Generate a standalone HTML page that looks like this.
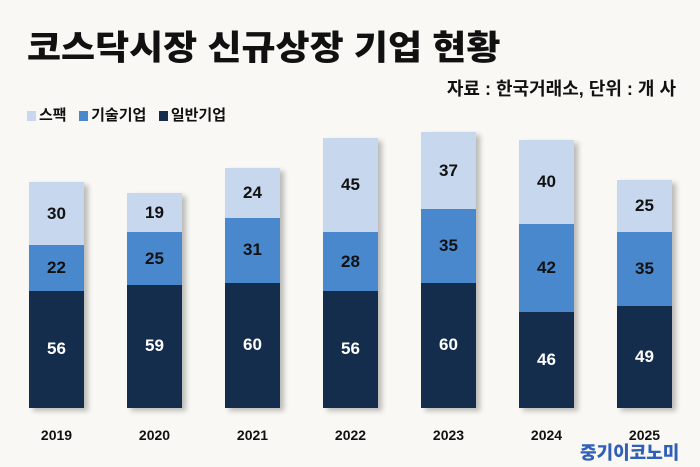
<!DOCTYPE html>
<html><head><meta charset="utf-8"><style>
body{margin:0;width:700px;height:467px;background:#f9f8f4;position:relative;overflow:hidden;font-family:"Liberation Sans","Noto Sans CJK KR",sans-serif;font-weight:bold}
.a{position:absolute;white-space:nowrap}
.bar{position:absolute;width:55px;box-shadow:4px 3px 5px rgba(0,0,0,0.25)}
.s{position:absolute;left:0;width:55px;display:flex;align-items:center;justify-content:center;font-size:17px;font-weight:bold}
.l{background:#c6d7ee;color:#111}.m{background:#4a88cd;color:#111}.d{background:#152d4c;color:#fff}
.y{position:absolute;top:427px;width:55px;text-align:center;font-size:14px;color:#111}
.sq{display:inline-block;width:9px;height:10px;margin-right:3px;vertical-align:-1px}
</style></head><body>
<div class="a" style="left:27px;top:20px;font-size:37px;font-weight:900;letter-spacing:0px;transform:scaleY(0.92);transform-origin:top left;color:#111">코스닥시장 신규상장 기업 현황</div>
<div class="a" style="right:24px;top:75px;font-size:18px;color:#111">자료 : 한국거래소, 단위 : 개 사</div>
<div class="a" style="left:27px;top:104px;font-size:15px;color:#111"><span class="sq" style="background:#c6d7ee"></span>스팩&nbsp;&nbsp;&nbsp;<span class="sq" style="background:#4a88cd"></span>기술기업&nbsp;&nbsp;&nbsp;<span class="sq" style="background:#152d4c"></span>일반기업</div>
<div id="c"></div>
<div class="a" style="left:580px;top:439px;font-size:18px;color:#2f5fb8;font-weight:900">중기이코노미</div>
<script>
var d=[[2019,56,22,30],[2020,59,25,19],[2021,60,31,24],[2022,56,28,45],[2023,60,35,37],[2024,46,42,40],[2025,49,35,25]];
var k=2.09,b=408,h='';
d.forEach(function(r,i){var x=29+i*98;var t=r[1]+r[2]+r[3];var H=t*k;
h+='<div class="bar" style="left:'+x+'px;top:'+(b-H)+'px;height:'+H+'px">';
var y1=H-r[1]*k,y2=y1-r[2]*k;
h+='<div class="s l" style="top:0;height:'+y2+'px">'+r[3]+'</div>';
h+='<div class="s m" style="top:'+y2+'px;height:'+(r[2]*k)+'px">'+r[2]+'</div>';
h+='<div class="s d" style="top:'+y1+'px;height:'+(r[1]*k)+'px">'+r[1]+'</div></div>';
h+='<div class="y" style="left:'+x+'px">'+r[0]+'</div>';});
document.getElementById('c').innerHTML=h;
</script>
</body></html>
